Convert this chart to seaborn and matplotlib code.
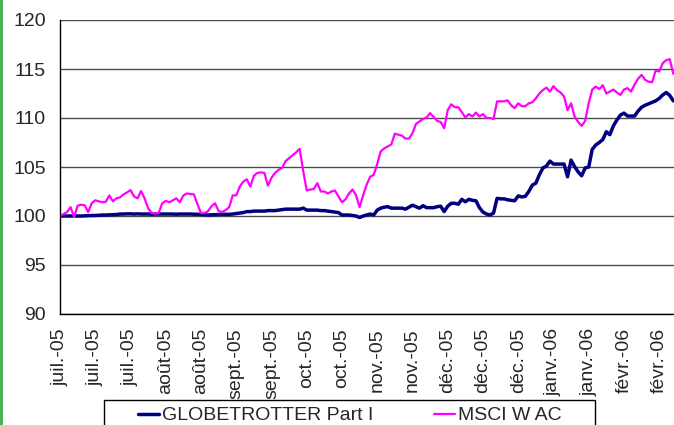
import numpy as np
import pandas as pd
import matplotlib
matplotlib.use("Agg")
import matplotlib.pyplot as plt
from matplotlib.patches import Rectangle
import seaborn as sns

# business-day series, base 100 on 1 July 2005
globetrotter = [
    100.0, 100.0, 100.0, 100.0, 100.0, 100.0, 100.0, 100.02, 100.05, 100.05,
    100.05, 100.08, 100.1, 100.1, 100.12, 100.15, 100.15, 100.2, 100.2, 100.22,
    100.22, 100.2, 100.22, 100.2, 100.2, 100.2, 100.18, 100.2, 100.2, 100.2,
    100.2, 100.2, 100.2, 100.18, 100.2, 100.2, 100.2, 100.2, 100.18, 100.18,
    100.15, 100.15, 100.1, 100.12, 100.15, 100.15, 100.17, 100.17, 100.17, 100.2,
    100.25, 100.3, 100.35, 100.45, 100.45, 100.5, 100.5, 100.5, 100.5, 100.55,
    100.55, 100.55, 100.6, 100.65, 100.7, 100.7, 100.7, 100.7, 100.7, 100.8,
    100.6, 100.6, 100.6, 100.6, 100.55, 100.55, 100.5, 100.45, 100.4, 100.35,
    100.1, 100.1, 100.1, 100.05, 100.0, 99.85, 100.0, 100.1, 100.2, 100.1,
    100.6, 100.8, 100.9, 100.95, 100.8, 100.8, 100.8, 100.8, 100.7, 100.9,
    101.1, 100.95, 100.8, 101.05, 100.85, 100.85, 100.85, 100.95, 101.0, 100.45,
    101.0, 101.3, 101.3, 101.2, 101.7, 101.45, 101.7, 101.6, 101.55, 100.85,
    100.4, 100.2, 100.1, 100.3, 101.8, 101.75, 101.75, 101.65, 101.6, 101.55,
    102.05, 101.95, 102.0, 102.5, 103.15, 103.35, 104.2, 104.9, 105.1, 105.6,
    105.3, 105.3, 105.3, 105.3, 104.0, 105.7, 105.05, 104.5, 104.1, 104.9,
    105.0, 106.8, 107.25, 107.5, 107.8, 108.6, 108.3, 109.2, 109.8, 110.3,
    110.5, 110.2, 110.2, 110.2, 110.7, 111.1, 111.3, 111.45, 111.6, 111.75,
    112.0, 112.35, 112.6, 112.3, 111.75,
]

msci = [
    100.0, 100.2, 100.4, 100.9, 99.9, 101.05, 101.15, 101.1, 100.4, 101.3,
    101.6, 101.5, 101.4, 101.45, 102.1, 101.5, 101.8, 101.9, 102.2, 102.4,
    102.65, 102.0, 101.8, 102.55, 101.8, 100.8, 100.3, 100.25, 100.3, 101.3,
    101.55, 101.4, 101.6, 101.8, 101.4, 102.1, 102.3, 102.25, 102.2, 101.2,
    100.3, 100.3, 100.5, 101.0, 101.3, 100.5, 100.4, 100.6, 100.9, 102.1,
    102.1, 103.0, 103.5, 103.75, 103.0, 104.1, 104.4, 104.45, 104.4, 103.1,
    103.9, 104.4, 104.7, 104.9, 105.6, 105.9, 106.2, 106.5, 106.85, 104.6,
    102.6, 102.7, 102.75, 103.35, 102.5, 102.5, 102.3, 102.5, 102.6, 102.0,
    101.4, 101.7, 102.3, 102.7, 102.1, 100.9, 102.1, 103.2, 104.0, 104.2,
    105.3, 106.6, 106.9, 107.1, 107.3, 108.4, 108.3, 108.2, 107.9, 107.9,
    108.45, 109.4, 109.65, 109.9, 110.05, 110.5, 110.1, 109.7, 109.6, 108.95,
    110.8, 111.4, 111.1, 111.1, 110.6, 110.05, 110.4, 110.15, 110.55, 110.15,
    110.4, 110.0, 110.0, 109.9, 111.7, 111.7, 111.7, 111.8, 111.3, 111.0,
    111.5, 111.2, 111.2, 111.5, 111.6, 112.0, 112.5, 112.85, 113.1, 112.7,
    113.25, 112.85, 112.6, 112.2, 110.8, 111.5, 110.15, 109.6, 109.2, 109.7,
    111.5, 112.9, 113.2, 112.95, 113.35, 112.5, 112.7, 112.9, 112.6, 112.35,
    112.9, 113.05, 112.7, 113.4, 114.0, 114.4, 113.9, 113.7, 113.65, 114.85,
    114.75, 115.6, 115.9, 116.0, 114.5,
]

tick_labels = [
    "juil.-05", "juil.-05", "juil.-05", "août-05", "août-05", "sept.-05",
    "sept.-05", "oct.-05", "oct.-05", "nov.-05", "nov.-05", "déc.-05",
    "déc.-05", "déc.-05", "janv.-06", "janv.-06", "févr.-06", "févr.-06",
]
series_names = ["GLOBETROTTER Part I", "MSCI W AC"]

days = np.arange(len(msci))
df = pd.DataFrame({"day": days, series_names[0]: globetrotter, series_names[1]: msci})

sns.set_style("white")
plt.rcParams["font.family"] = ["Liberation Sans", "DejaVu Sans"]
plt.rcParams["font.size"] = 14

fig = plt.figure(figsize=(6.74, 4.25), dpi=100)
ax = fig.add_axes([60 / 674, 1 - 314 / 425, 1 - 60 / 674, 294 / 425])

sns.lineplot(data=df, x="day", y=series_names[0], ax=ax, color="#000080",
             linewidth=2.5, label=series_names[0])
sns.lineplot(data=df, x="day", y=series_names[1], ax=ax, color="#ff00ff",
             linewidth=1.6, label=series_names[1])

ax.set_ylim(90, 120)
ax.set_yticks(np.arange(90, 121, 5))
ax.set_xlim(0, 174.2)
ax.set_xticks(np.arange(0, 10 * len(tick_labels), 10))
ax.set_xticklabels(tick_labels, rotation=90)
ax.set_xlabel("")
ax.set_ylabel("")

ax.yaxis.grid(True, color="#4d4d4d", linewidth=1.0)
ax.set_axisbelow(True)
for side in ["top", "right"]:
    ax.spines[side].set_visible(False)
for side in ["left", "bottom"]:
    ax.spines[side].set_color("black")
    ax.spines[side].set_linewidth(1.0)
ax.tick_params(axis="x", direction="out", length=3, width=1, color="black", pad=7)
ax.tick_params(axis="y", direction="out", length=5, width=1, color="black", pad=5)

ax.get_legend().remove()
handles, labels = ax.get_legend_handles_labels()
fig.legend(handles, labels, loc="upper center", bbox_to_anchor=(350 / 674, 1 - 400 / 425),
           ncol=2, frameon=False, handlelength=1.1, handletextpad=0.15,
           columnspacing=3.1, borderpad=0.35, borderaxespad=0)

# legend frame and green page border
fig.add_artist(Rectangle((104 / 674, -0.05), 491 / 674, 0.05 + 25 / 425,
                         transform=fig.transFigure, fill=False, edgecolor="black", linewidth=1.0))
fig.add_artist(Rectangle((0, 0), 3 / 674, 1, transform=fig.transFigure,
                         facecolor="#4caf50", edgecolor="none"))

fig.savefig("out.png", dpi=100)
